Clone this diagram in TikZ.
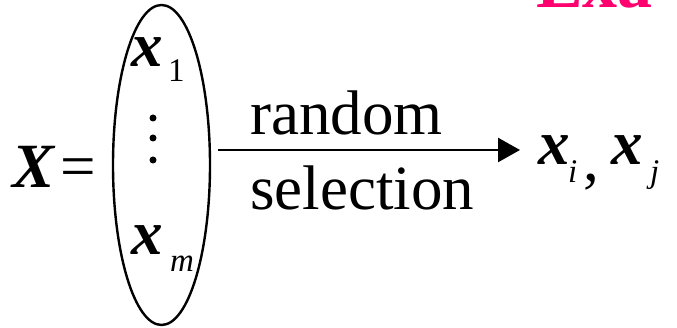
\documentclass[tikz,border=0pt]{standalone}
\usepackage{fontspec}
\setmainfont{Liberation Serif}
\usetikzlibrary{shapes.geometric,arrows.meta}
\definecolor{exapink}{RGB}{255,0,110}
\begin{document}
\begin{tikzpicture}[x=1pt,y=1pt,
  big/.style={inner sep=0pt,anchor=base west,font=\fontsize{63}{70}\selectfont},
  bigbi/.style={inner sep=0pt,anchor=base west,font=\fontsize{63}{70}\selectfont\bfseries\itshape},
  sub/.style={inner sep=0pt,anchor=base west,font=\fontsize{33}{36}\selectfont\itshape},
  subup/.style={inner sep=0pt,anchor=base west,font=\fontsize{33}{36}\selectfont},
  arr/.style={line width=2.6pt,-{Triangle[length=22pt,width=24pt]}},
  vdot/.style={circle,fill,inner sep=0pt,minimum size=7pt}]
\clip (0,0) rectangle (677,328);
\node[ellipse,draw,line width=2.4pt,minimum width=97pt,minimum height=320pt,inner sep=0pt,outer sep=0pt] (E) at (161.5,163) {};
\node[bigbi] (X) at (12,140) {X};
\node[big] (eq) at (60,140) {=};
\node[bigbi] (x1) at (131,261) {x};
\node[subup] (s1) at (168,246) {1};
\node[vdot] (d1) at (153,210) {};
\node[vdot] (d2) at (153,190) {};
\node[vdot] (d3) at (153,168) {};
\node[bigbi] (xm) at (131,73) {x};
\node[sub] (sm) at (170,56) {m};
\node[big] (r) at (250,193) {random};
\node[big] (sel) at (250,118) {selection};
\node[bigbi] (xi) at (538,163) {x};
\node[sub] (si) at (568,145) {i};
\node[big] (cm) at (583,147) {,};
\node[bigbi] (xj) at (611,163) {x};
\node[sub] (sj) at (650,145) {j};
\coordinate (s) at ([xshift=8pt,yshift=15pt]E.east);
\draw[arr] (s) -- ([xshift=-18pt]s -| xi.west);
\node[inner sep=0pt,anchor=base west,font=\fontsize{70}{70}\selectfont\bfseries,text=exapink] (ex) at (536,320) {Exa};
\end{tikzpicture}
\end{document}
